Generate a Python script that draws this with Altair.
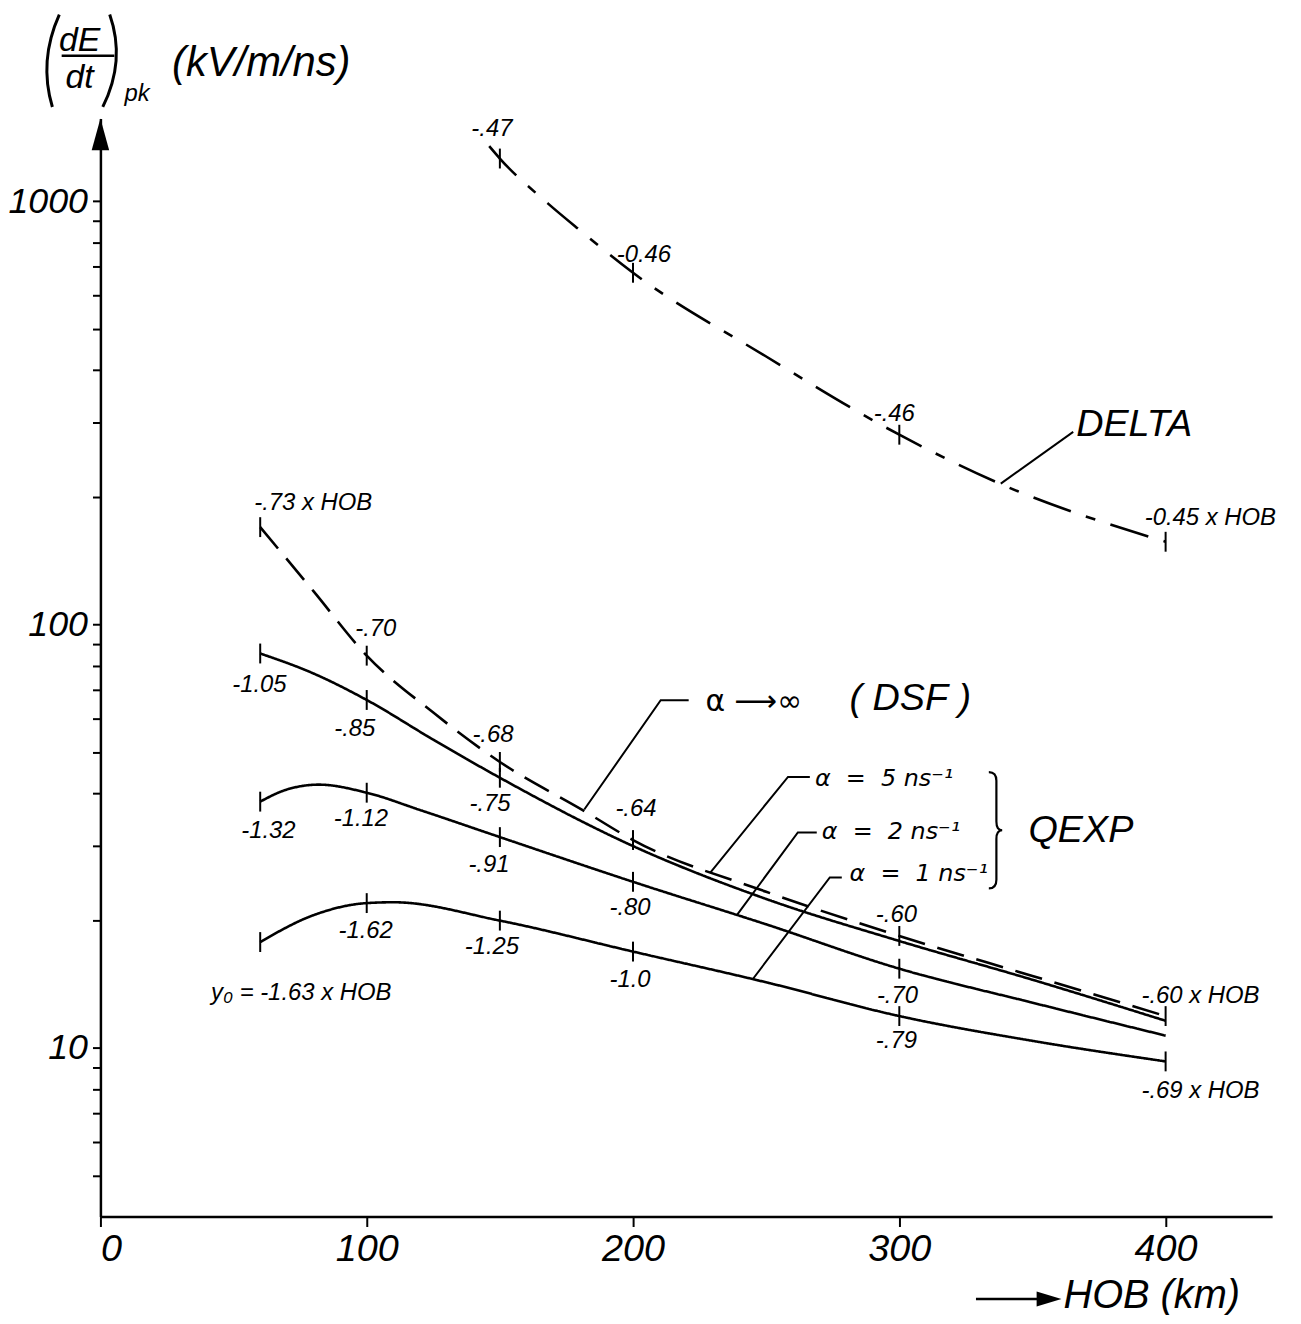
import altair as alt
import pandas as pd

# ---- curve data: HOB (km) vs peak dE/dt (kV/m/ns) ----
delta_x = [146, 150, 168, 180, 200, 250, 300, 338, 400]
delta_y = [1350, 1262, 989, 855, 678, 430, 281, 215, 157]
dsf_x = [60, 80, 100, 125, 150, 182, 200, 250, 300, 350, 400]
dsf_y = [170, 120, 84.5, 62, 47.4, 36.2, 31.0, 23.4, 18.4, 14.8, 11.9]
a5_x = [60, 80, 100, 125, 150, 200, 250, 300, 350, 400]
a5_y = [85.5, 76.7, 66.4, 53.5, 43.5, 30.0, 22.5, 17.9, 14.5, 11.6]
a2_x = [60, 70, 82, 100, 120, 150, 200, 250, 300, 350, 400]
a2_y = [38.2, 40.8, 41.9, 40.1, 36.5, 31.5, 24.7, 19.6, 15.4, 12.8, 10.7]
a1_x = [60, 80, 100, 110, 150, 200, 250, 300, 350, 400]
a1_y = [17.8, 20.6, 22.0, 22.1, 20.0, 16.9, 14.3, 11.9, 10.4, 9.3]

series_names = ["DELTA", "DSF", "a5", "a2", "a1"]
series_xs = [delta_x, dsf_x, a5_x, a2_x, a1_x]
series_ys = [delta_y, dsf_y, a5_y, a2_y, a1_y]

# tick marks on the curves (HOB values)
tick_at = {
    "DELTA": [150, 200, 300, 400],
    "DSF": [60, 100, 150, 200, 300, 400],
    "a5": [60, 100, 150],
    "a2": [60, 100, 150, 200, 300],
    "a1": [60, 100, 150, 200, 300, 400],
}

# curve labels (text, HOB, dE/dt)
lab_text = ["-.47", "-0.46", "-.46", "-0.45 x HOB",
            "-.73 x HOB", "-.70", "-.68", "-.64", "-.60", "-.60 x HOB",
            "-1.05", "-.85", "-.75",
            "-1.32", "-1.12", "-.91", "-.80", "-.70",
            "-1.62", "-1.25", "-1.0", "-.79", "-.69 x HOB",
            "y\u2080 = -1.63 x HOB"]
lab_x = [147.0, 204.1, 298.1, 416.8,
         79.9, 103.4, 147.4, 201.1, 298.9, 413.1,
         59.7, 95.5, 146.3,
         63.1, 97.8, 145.9, 198.9, 299.3,
         99.6, 147.0, 198.9, 298.9, 413.1,
         75.4]
lab_y = [1484, 747, 314.6, 178.3,
         193.4, 97.9, 54.9, 36.6, 20.6, 13.3,
         71.9, 56.7, 37.8,
         32.5, 34.8, 27.0, 21.4, 13.3,
         18.9, 17.3, 14.5, 10.4, 7.93,
         13.5]

# leader lines (group, HOB, dE/dt)
lead_grp = ["dsf", "dsf", "dsf", "a5", "a5", "a5", "a2", "a2", "a2", "a1", "a1", "a1", "dl", "dl"]
lead_x = [181.7, 210.4, 220.9, 229.1, 258.2, 266.4, 239.2, 261.9, 269.0, 244.8, 273.9, 278.4, 338.1, 365.3]
lead_y = [36.6, 66.3, 66.3, 26.0, 43.7, 43.7, 20.7, 32.3, 32.3, 14.5, 25.3, 25.3, 215.4, 285.4]

# annotation texts (text, HOB, dE/dt)
ann_text = ["DELTA", "(\u00a0DSF\u00a0)", "QEXP",
            "\u03b1\u00a0\u00a0=\u00a0\u00a05 ns\u207b\u00b9",
            "\u03b1\u00a0\u00a0=\u00a0\u00a02 ns\u207b\u00b9",
            "\u03b1\u00a0\u00a0=\u00a0\u00a01 ns\u207b\u00b9"]
ann_x = [366.4, 281.3, 348.5, 268.3, 270.9, 281.3]
ann_y = [296.5, 66.7, 32.5, 43.1, 32.3, 25.8]
alpha_inf_x = [227.2]
alpha_inf_y = [65.6]
brace_x = [335.8]
brace_y = [32.7]

xticks = [0, 100, 200, 300, 400]
yticks = [5, 6, 7, 8, 9, 10, 20, 30, 40, 50, 60, 70, 80, 90,
          100, 200, 300, 400, 500, 600, 700, 800, 900, 1000]

FONT = "Liberation Sans"

# ---- tables ----
rows = []
for n, xs, ys in zip(series_names, series_xs, series_ys):
    for i, (a, b) in enumerate(zip(xs, ys)):
        rows.append({"series": n, "hob": a, "v": b, "i": i})
curves = pd.DataFrame(rows)

trows = []
for n, xs, ys in zip(series_names, series_xs, series_ys):
    for a, b in zip(xs, ys):
        if a in tick_at[n]:
            trows.append({"series": n, "hob": a, "v": b})
ticks = pd.DataFrame(trows)

labels = pd.DataFrame({"t": lab_text, "hob": lab_x, "v": lab_y})
leaders = pd.DataFrame({"g": lead_grp, "hob": lead_x, "v": lead_y,
                        "o": list(range(len(lead_x)))})
anns = pd.DataFrame({"t": ann_text, "hob": ann_x, "v": ann_y})
ainf = pd.DataFrame({"hob": alpha_inf_x, "v": alpha_inf_y})
braces = pd.DataFrame({"hob": brace_x, "v": brace_y})
one = pd.DataFrame({"k": [0]})

xs_scale = alt.Scale(domain=[0, 440], nice=False, zero=False)
ys_scale = alt.Scale(type="log", domain=[4, 1570], nice=False)

X = alt.X("hob:Q", scale=xs_scale,
          axis=alt.Axis(values=xticks, format="d", title=None, grid=False,
                        tickSize=10, labelPadding=4, labelFontSize=38))
Y = alt.Y("v:Q", scale=ys_scale,
          axis=alt.Axis(values=yticks, title=None, grid=False, tickSize=8,
                        labelPadding=5, labelFontSize=36,
                        labelExpr="(datum.value == 10 || datum.value == 100 || datum.value == 1000) ? format(datum.value, 'd') : ''"))

lines = alt.Chart(curves).mark_line(interpolate="monotone", strokeWidth=2.6, color="black").encode(
    x=X, y=Y, detail="series:N", order="i:Q",
    strokeDash=alt.StrokeDash("series:N", legend=None,
                              scale=alt.Scale(domain=series_names,
                                              range=[[40, 16, 10, 16], [28, 13], [1, 0], [1, 0], [1, 0]])))

tickmarks = alt.Chart(ticks).mark_tick(orient="vertical", size=20, thickness=2, color="black", opacity=1).encode(
    x=X, y=Y)

curve_labels = alt.Chart(labels).mark_text(font=FONT, fontStyle="italic", fontSize=24, color="black",
                                           align="center", baseline="middle").encode(
    x=X, y=Y, text="t:N")

leader_lines = alt.Chart(leaders).mark_line(strokeWidth=2, color="black").encode(
    x=X, y=Y, detail="g:N", order="o:Q")

big = ["DELTA", "(\u00a0DSF\u00a0)", "QEXP"]
ann_big = alt.Chart(anns[anns.t.isin(big)]).mark_text(font=FONT, fontStyle="italic", fontSize=38, color="black",
                                                     align="left", baseline="middle").encode(
    x=X, y=Y, text="t:N")
ann_small = alt.Chart(anns[~anns.t.isin(big)]).mark_text(font="DejaVu Sans", fontStyle="italic", fontSize=24,
                                                        color="black", align="left", baseline="middle").encode(
    x=X, y=Y, text="t:N")
ann_inf = alt.Chart(ainf).mark_text(text="\u03b1 \u27f6\u221e", font="DejaVu Sans", fontSize=30,
                                    color="black", align="left", baseline="middle").encode(x=X, y=Y)

brace = alt.Chart(braces).mark_point(
    shape="M-0.1,-1 Q0.03,-1 0.03,-0.85 L0.03,-0.15 Q0.03,0 0.13,0 Q0.03,0 0.03,0.15 L0.03,0.85 Q0.03,1 -0.1,1",
    size=13689, filled=False, stroke="black", strokeWidth=2.2, opacity=1).encode(x=X, y=Y)


def ptxt(s, px, py, size, align="left"):
    return alt.Chart(one).mark_text(text=s, font=FONT, fontStyle="italic", fontSize=size, color="black",
                                    align=align, baseline="middle").encode(x=alt.value(px), y=alt.value(py))


# y-axis arrowhead
y_arrow = alt.Chart(one).mark_point(shape="M0,-1L0.55,1L-0.55,1Z", size=1024, filled=True,
                                    color="black", opacity=1).encode(x=alt.value(0), y=alt.value(16))
# y title pieces
lpar = alt.Chart(one).mark_point(shape="M0.25,-1 Q-0.2,0 0.1,1", size=8649, filled=False, stroke="black",
                                 strokeWidth=3, opacity=1).encode(x=alt.value(-53), y=alt.value(-58))
rpar = alt.Chart(one).mark_point(shape="M-0.1,-1 Q0.25,0 -0.25,1", size=8649, filled=False, stroke="black",
                                 strokeWidth=3, opacity=1).encode(x=alt.value(14), y=alt.value(-58))
frac = alt.Chart(one).mark_rule(strokeWidth=2.5, color="black").encode(
    x=alt.value(-39), x2=alt.value(14), y=alt.value(-63))
t_dE = ptxt("dE", -21, -78, 34, "center")
t_dt = ptxt("dt", -21, -41, 34, "center")
t_pk = ptxt("pk", 37, -24, 24, "center")
t_unit = ptxt("(kV/m/ns)", 72, -56, 42)

# x title: arrow + text
x_shaft = alt.Chart(one).mark_rule(strokeWidth=2.5, color="black").encode(
    x=alt.value(881), x2=alt.value(949), y=alt.value(1188))
x_head = alt.Chart(one).mark_point(shape="M1,0L-1,-0.6L-1,0.6Z", size=625, filled=True,
                                   color="black", opacity=1).encode(x=alt.value(954.5), y=alt.value(1188))
t_hob = ptxt("HOB (km)", 969, 1185, 40)

chart = alt.layer(
    lines, tickmarks, leader_lines, curve_labels, ann_big, ann_small, ann_inf, brace,
    y_arrow, lpar, rpar, frac, t_dE, t_dt, t_pk, t_unit, x_shaft, x_head, t_hob
).properties(
    width=1179, height=1105,
    autosize=alt.AutoSizeParams(type="none"),
    padding={"left": 93, "top": 107, "right": 21, "bottom": 95},
    background="white",
).configure_view(stroke=None).configure_axis(
    domainColor="black", domainWidth=2.5, tickColor="black", tickWidth=2,
    labelColor="black", labelFont=FONT, labelFontStyle="italic",
)

chart.save("out.html", embed_options={"renderer": "svg", "actions": False})
